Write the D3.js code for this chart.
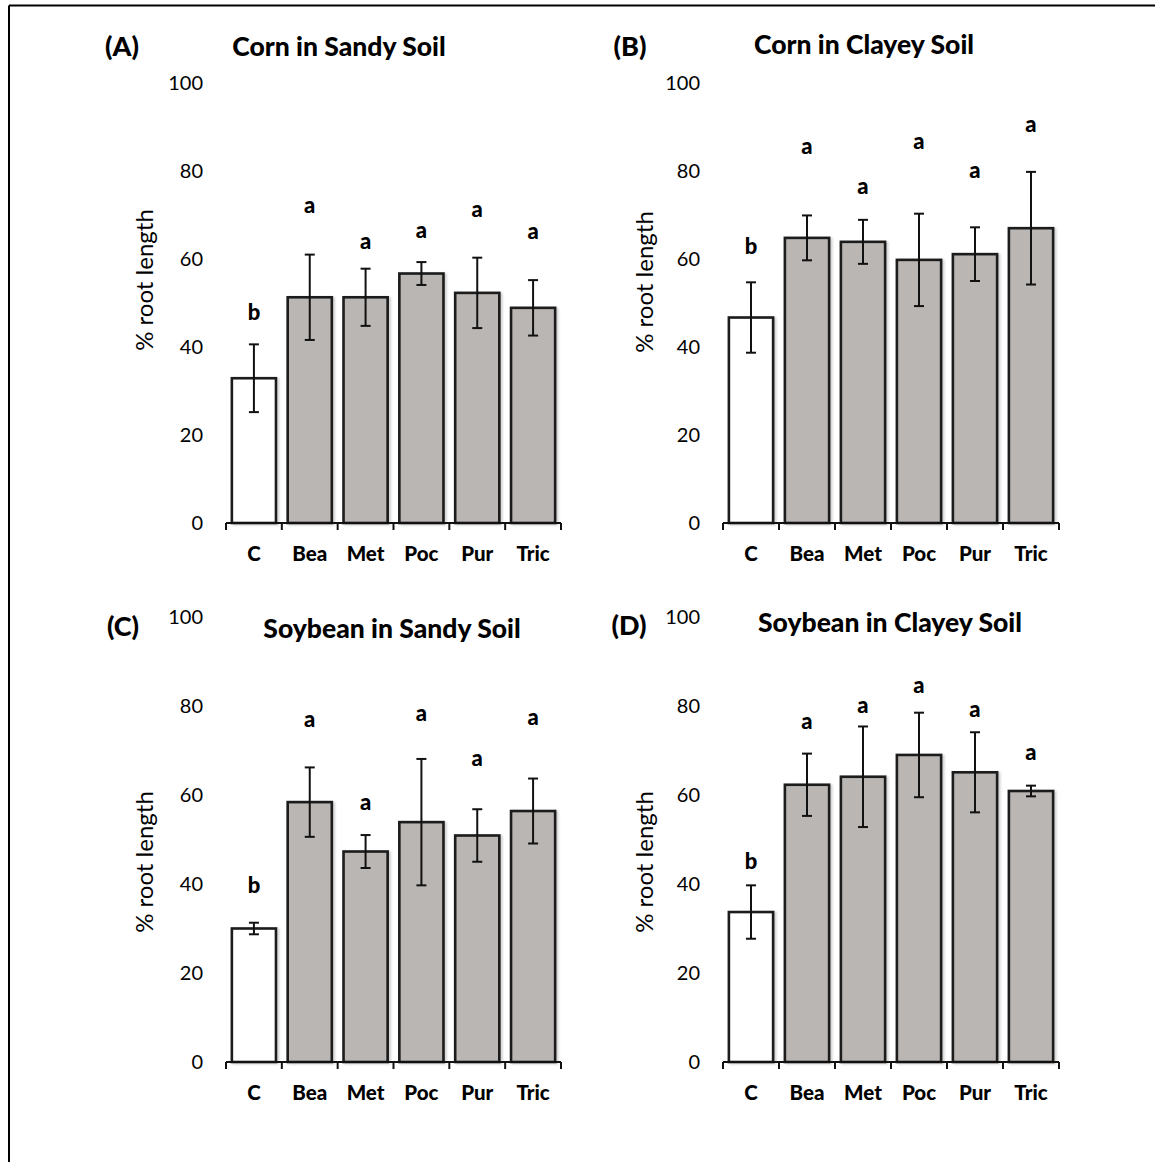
<!DOCTYPE html>
<html>
<head>
<meta charset="utf-8">
<script src="https://cdn.jsdelivr.net/npm/d3@7"></script>
<style>
  html, body { margin: 0; padding: 0; background: #fff; }
  svg { display: block; }
  text { font-family: Lato, "Open Sans", sans-serif; fill: #000; }
</style>
</head>
<body>
<script>
// ---------- data ----------
const categories = ["C", "Bea", "Met", "Poc", "Pur", "Tric"];
const yTicks = [0, 20, 40, 60, 80, 100];
const panelTitles = ["Corn in Sandy Soil", "Corn in Clayey Soil", "Soybean in Sandy Soil", "Soybean in Clayey Soil"];
const panelTags = ["(A)", "(B)", "(C)", "(D)"];
const yAxisLabel = "% root length";

const meansA = [32.9, 51.3, 51.3, 56.7, 52.3, 48.9];
const errA   = [7.7, 9.7, 6.5, 2.6, 8.0, 6.3];
const meansB = [46.7, 64.8, 63.9, 59.8, 61.1, 67.0];
const errB   = [8.0, 5.1, 5.0, 10.5, 6.1, 12.8];
const meansC = [30.0, 58.4, 47.3, 53.9, 50.9, 56.4];
const errC   = [1.3, 7.8, 3.7, 14.2, 5.9, 7.3];
const meansD = [33.7, 62.3, 64.1, 69.0, 65.1, 60.9];
const errD   = [6.0, 7.0, 11.3, 9.5, 9.0, 1.2];

const lettersA = ["b", "a", "a", "a", "a", "a"];
const lettersB = ["b", "a", "a", "a", "a", "a"];
const lettersC = ["b", "a", "a", "a", "a", "a"];
const lettersD = ["b", "a", "a", "a", "a", "a"];
// height (in % units) at which each significance letter is centred
const letterPosA = [48.1, 72.3, 64.2, 66.8, 71.5, 66.4];
const letterPosB = [63.0, 85.9, 76.6, 87.0, 80.4, 90.8];
const letterPosC = [39.9, 77.2, 58.6, 78.5, 68.4, 77.7];
const letterPosD = [45.3, 76.8, 80.3, 84.8, 79.5, 69.8];

// ---------- layout ----------
const W = 1155, H = 1162;
const layouts = [
  { x0: 226, x1: 561, yTop: 83,  yBase: 523,  tagX: 122, tagY: 45,  titleX: 339, titleY: 46,  ylabX: 143, ylabY: 280 },
  { x0: 723, x1: 1059, yTop: 83, yBase: 523,  tagX: 630, tagY: 45,  titleX: 864, titleY: 44,  ylabX: 643, ylabY: 282 },
  { x0: 226, x1: 561, yTop: 617, yBase: 1062, tagX: 123, tagY: 625, titleX: 392, titleY: 628, ylabX: 143, ylabY: 862 },
  { x0: 723, x1: 1059, yTop: 617, yBase: 1062, tagX: 629, tagY: 624, titleX: 890, titleY: 622, ylabX: 643, ylabY: 862 }
];
const panelData = [
  { means: meansA, errs: errA, letters: lettersA, letterPos: letterPosA },
  { means: meansB, errs: errB, letters: lettersB, letterPos: letterPosB },
  { means: meansC, errs: errC, letters: lettersC, letterPos: letterPosC },
  { means: meansD, errs: errD, letters: lettersD, letterPos: letterPosD }
];

const svg = d3.select("body").append("svg").attr("width", W).attr("height", H);

// outer frame (top and left visible)
svg.append("line").attr("x1", 9).attr("x2", W).attr("y1", 5.5).attr("y2", 5.5)
  .attr("stroke", "#000").attr("stroke-width", 2);
svg.append("line").attr("x1", 9).attr("x2", 9).attr("y1", 5.5).attr("y2", H)
  .attr("stroke", "#000").attr("stroke-width", 2);

const defs = svg.append("defs");
const f = defs.append("filter").attr("id", "shadow").attr("x", "-20%").attr("y", "-5%").attr("width", "140%").attr("height", "110%");
f.append("feDropShadow").attr("dx", 2).attr("dy", 1).attr("stdDeviation", 1.2).attr("flood-color", "#000").attr("flood-opacity", 0.18);

layouts.forEach((L, pi) => {
  const D = panelData[pi];
  const g = svg.append("g");
  const x = d3.scaleBand().domain(categories).range([L.x0, L.x1]).paddingInner(0.21).paddingOuter(0.105);
  const y = d3.scaleLinear().domain([0, 100]).range([L.yBase, L.yTop]);

  // y tick labels (no axis line)
  const yAxis = d3.axisLeft(y).tickValues(yTicks).tickSize(0).tickPadding(0).tickFormat(d3.format("d"));
  const ya = g.append("g").attr("transform", `translate(${L.x0 - 23},0)`).call(yAxis);
  ya.select(".domain").remove();
  ya.selectAll("text").attr("font-size", 20).attr("fill", "#000");

  // y axis title
  g.append("text").attr("transform", `translate(${L.ylabX},${L.ylabY}) rotate(-90)`)
    .attr("text-anchor", "middle").attr("dominant-baseline", "central")
    .attr("font-size", 24).text(yAxisLabel);

  // bars
  g.selectAll("rect.bar").data(categories).enter().append("rect")
    .attr("class", "bar")
    .attr("x", d => x(d))
    .attr("width", x.bandwidth())
    .attr("y", (d, i) => y(D.means[i]))
    .attr("height", (d, i) => y(0) - y(D.means[i]))
    .attr("fill", (d, i) => i === 0 ? "#ffffff" : "#bab6b4")
    .attr("stroke", "#1a1a1a").attr("stroke-width", 2.6)
    .attr("filter", "url(#shadow)");

  // error bars
  const capW = 5;
  categories.forEach((c, i) => {
    const cx = x(c) + x.bandwidth() / 2;
    const hi = y(D.means[i] + D.errs[i]), lo = y(D.means[i] - D.errs[i]);
    g.append("line").attr("x1", cx).attr("x2", cx).attr("y1", hi).attr("y2", lo).attr("stroke", "#111").attr("stroke-width", 2);
    g.append("line").attr("x1", cx - capW).attr("x2", cx + capW).attr("y1", hi).attr("y2", hi).attr("stroke", "#111").attr("stroke-width", 2);
    g.append("line").attr("x1", cx - capW).attr("x2", cx + capW).attr("y1", lo).attr("y2", lo).attr("stroke", "#111").attr("stroke-width", 2);
  });

  // significance letters
  g.selectAll("text.sig").data(categories).enter().append("text")
    .attr("class", "sig")
    .attr("x", d => x(d) + x.bandwidth() / 2)
    .attr("y", (d, i) => y(D.letterPos[i]))
    .attr("text-anchor", "middle").attr("dominant-baseline", "central")
    .attr("font-weight", 900).attr("font-size", 22)
    .text((d, i) => D.letters[i]);

  // x axis
  const step = x.step();
  const xAxisG = g.append("g").attr("transform", `translate(0,${L.yBase})`);
  xAxisG.append("line").attr("x1", L.x0).attr("x2", L.x1).attr("y1", 0).attr("y2", 0).attr("stroke", "#111").attr("stroke-width", 2);
  const tickPos = d3.range(categories.length + 1).map(k => L.x0 + k * step);
  xAxisG.selectAll("line.tk").data(tickPos).enter().append("line").attr("class", "tk")
    .attr("x1", d => d).attr("x2", d => d).attr("y1", 0).attr("y2", 7)
    .attr("stroke", "#111").attr("stroke-width", 2);
  const xAxis = d3.axisBottom(x).tickSize(0).tickPadding(0);
  const xa = g.append("g").attr("transform", `translate(0,${L.yBase + 30})`).call(xAxis);
  xa.select(".domain").remove();
  xa.selectAll("text").attr("dy", null).attr("dominant-baseline", "central")
    .attr("font-weight", 900).attr("font-size", 20.5).attr("fill", "#000");

  // title and panel tag
  g.append("text").attr("x", L.titleX).attr("y", L.titleY).attr("text-anchor", "middle").attr("dominant-baseline", "central")
    .attr("font-weight", 900).attr("font-size", 26.5).text(panelTitles[pi]);
  g.append("text").attr("x", L.tagX).attr("y", L.tagY).attr("text-anchor", "middle").attr("dominant-baseline", "central")
    .attr("font-weight", 900).attr("font-size", 27).text(panelTags[pi]);
});
</script>
</body>
</html>
